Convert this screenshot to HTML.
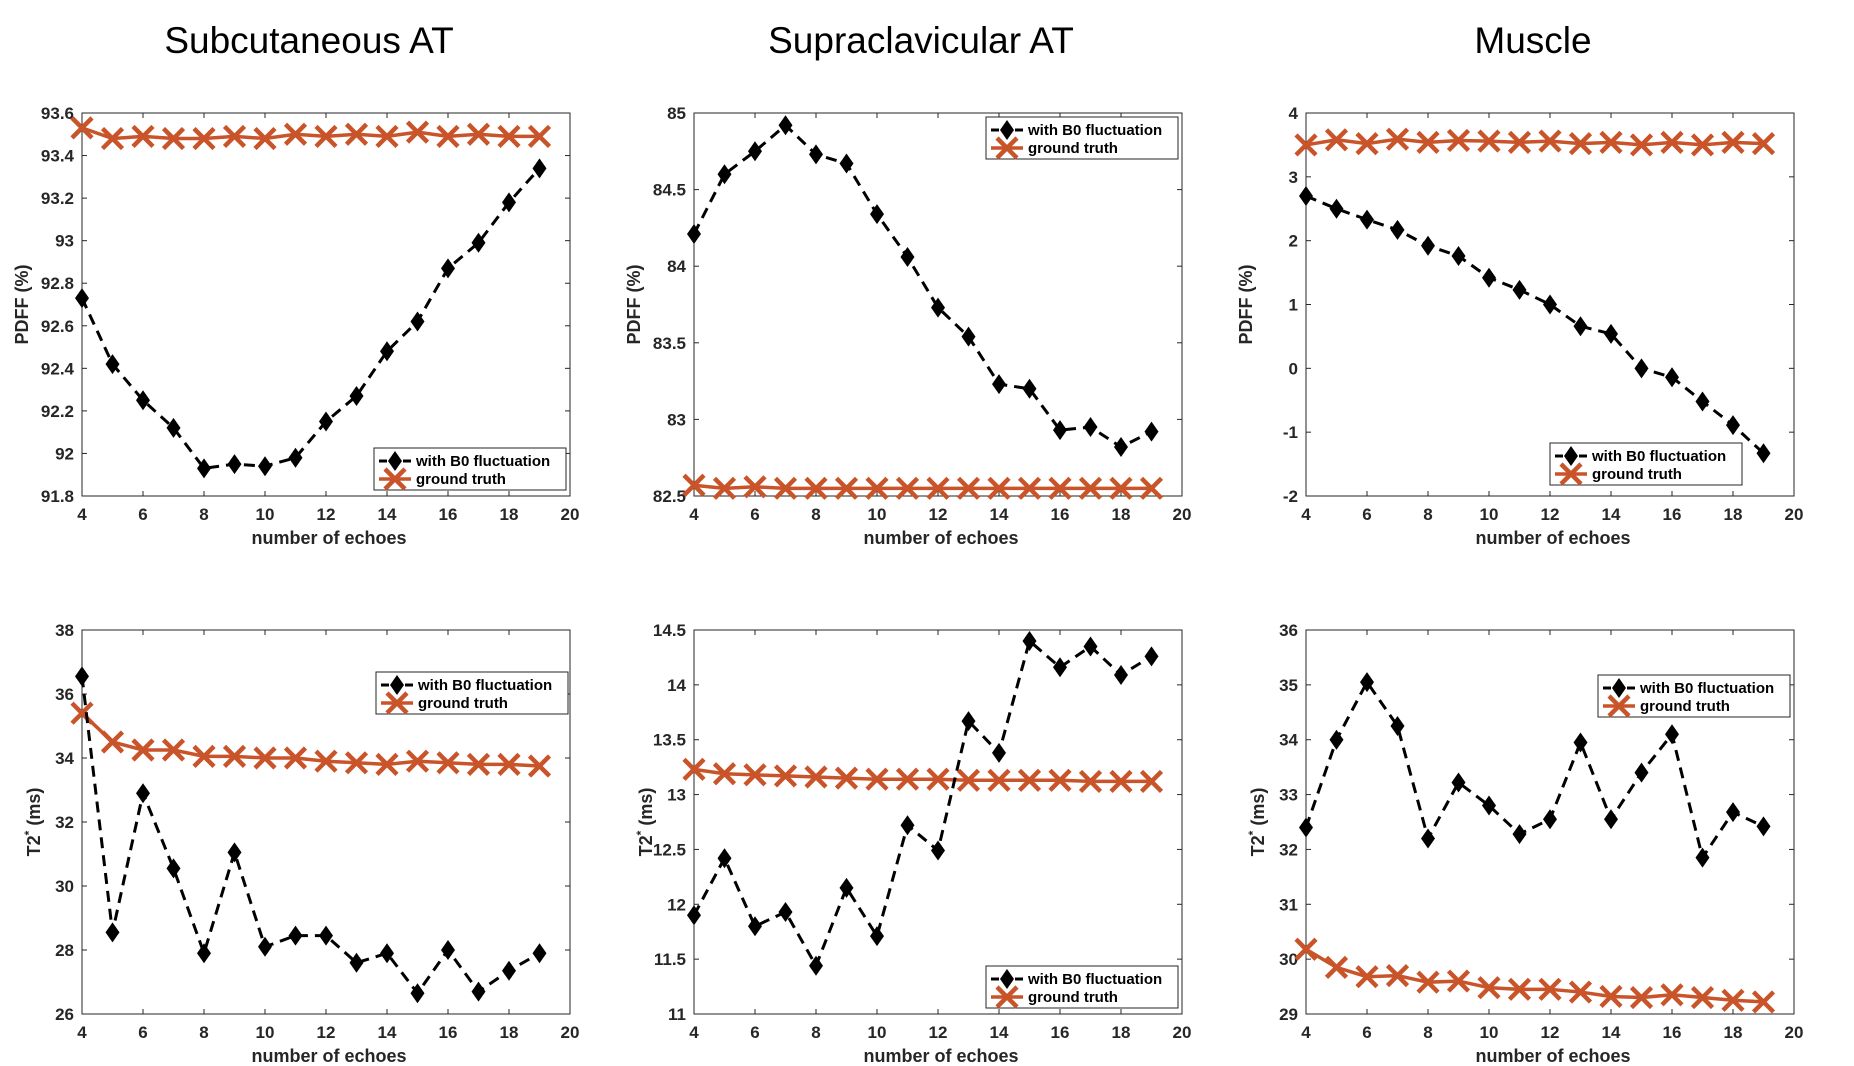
<!DOCTYPE html>
<html><head><meta charset="utf-8"><style>
body{margin:0;background:#fff;}
svg{display:block;font-family:"Liberation Sans",sans-serif;}
.tk{font-size:17px;font-weight:bold;fill:#262626;}
.al{font-size:18px;font-weight:bold;fill:#262626;}
.ttl{font-size:37px;fill:#000;}
.lg{font-size:15px;font-weight:bold;fill:#000;}
</style></head><body>
<svg id="fig" width="1854" height="1066" viewBox="0 0 1854 1066"></svg>
<script>
const echoes=[4,5,6,7,8,9,10,11,12,13,14,15,16,17,18,19];
const xTicks=[4,6,8,10,12,14,16,18,20];
const subPdffB0=[92.73,92.42,92.25,92.12,91.93,91.95,91.94,91.98,92.15,92.27,92.48,92.62,92.87,92.99,93.18,93.34];
const subPdffGT=[93.53,93.48,93.49,93.48,93.48,93.49,93.48,93.50,93.49,93.50,93.49,93.51,93.49,93.50,93.49,93.49];
const supPdffB0=[84.21,84.60,84.75,84.92,84.73,84.67,84.34,84.06,83.73,83.54,83.23,83.20,82.93,82.95,82.82,82.92];
const supPdffGT=[82.57,82.55,82.56,82.55,82.55,82.55,82.55,82.55,82.55,82.55,82.55,82.55,82.55,82.55,82.55,82.55];
const musPdffB0=[2.70,2.50,2.33,2.17,1.92,1.76,1.42,1.23,1.00,0.66,0.54,0.00,-0.14,-0.52,-0.89,-1.33];
const musPdffGT=[3.50,3.58,3.52,3.59,3.54,3.57,3.56,3.54,3.56,3.52,3.54,3.50,3.54,3.50,3.54,3.52];
const subT2B0=[36.55,28.55,32.9,30.55,27.9,31.05,28.1,28.45,28.45,27.6,27.9,26.65,28.0,26.7,27.35,27.9];
const subT2GT=[35.4,34.5,34.25,34.25,34.05,34.05,34.0,34.0,33.9,33.85,33.8,33.9,33.85,33.8,33.8,33.75];
const supT2B0=[11.9,12.42,11.8,11.93,11.44,12.15,11.71,12.72,12.49,13.67,13.38,14.4,14.16,14.35,14.09,14.26];
const supT2GT=[13.23,13.19,13.18,13.17,13.16,13.15,13.14,13.14,13.14,13.13,13.13,13.13,13.13,13.12,13.12,13.12];
const musT2B0=[32.4,34.0,35.05,34.25,32.2,33.22,32.8,32.28,32.55,33.95,32.55,33.4,34.1,31.85,32.68,32.42];
const musT2GT=[30.18,29.85,29.68,29.7,29.58,29.6,29.48,29.45,29.45,29.4,29.32,29.3,29.35,29.3,29.25,29.22];
const subPdffTicks=[91.8,92,92.2,92.4,92.6,92.8,93,93.2,93.4,93.6];
const supPdffTicks=[82.5,83,83.5,84,84.5,85];
const musPdffTicks=[-2,-1,0,1,2,3,4];
const subT2Ticks=[26,28,30,32,34,36,38];
const supT2Ticks=[11,11.5,12,12.5,13,13.5,14,14.5];
const musT2Ticks=[29,30,31,32,33,34,35,36];
const titles=['Subcutaneous AT','Supraclavicular AT','Muscle'];

const NS='http://www.w3.org/2000/svg';
const fig=document.getElementById('fig');
function el(tag,attrs,parent,text){const e=document.createElementNS(NS,tag);for(const k in attrs)e.setAttribute(k,attrs[k]);if(text!==undefined)e.textContent=text;(parent||fig).appendChild(e);return e;}
const OR='#C9542A';
function diamond(g,x,y){return el('polygon',{points:`${x},${y-10} ${x+7},${y} ${x},${y+10} ${x-7},${y}`,fill:'#000'},g);}
function cross(g,x,y){return el('path',{d:`M${x-10},${y-10}L${x+10},${y+10}M${x-10},${y+10}L${x+10},${y-10}`,stroke:OR,'stroke-width':4.5,fill:'none'},g);}

const panels=[
 {c:0,r:0,b0:subPdffB0,gt:subPdffGT,yt:subPdffTicks,yl:'PDFF (%)',leg:'br',lx:-4,ly:-6},
 {c:1,r:0,b0:supPdffB0,gt:supPdffGT,yt:supPdffTicks,yl:'PDFF (%)',leg:'tr',lx:-4,ly:4},
 {c:2,r:0,b0:musPdffB0,gt:musPdffGT,yt:musPdffTicks,yl:'PDFF (%)',leg:'br',lx:-52,ly:-11},
 {c:0,r:1,b0:subT2B0,gt:subT2GT,yt:subT2Ticks,yl:'T2',leg:'tr',lx:-2,ly:42},
 {c:1,r:1,b0:supT2B0,gt:supT2GT,yt:supT2Ticks,yl:'T2',leg:'br',lx:-4,ly:-6},
 {c:2,r:1,b0:musT2B0,gt:musT2GT,yt:musT2Ticks,yl:'T2',leg:'tr',lx:-4,ly:45}
];
const colL=[82,694,1306], W=488, rowT=[113,630], H=[383,384];

titles.forEach((t,i)=>{
 const tx=el('text',{x:colL[i]+W/2-17,y:53,'text-anchor':'middle',class:'ttl'},fig,t);
 
 
});

panels.forEach((p,pi)=>{
 const L=colL[p.c],T=rowT[p.r],h=H[p.r],R=L+W,B=T+h;
 const ymin=p.yt[0],ymax=p.yt[p.yt.length-1];
 const X=v=>L+(v-4)/(20-4)*W;
 const Y=v=>B-(v-ymin)/(ymax-ymin)*h;
 const g=el('g',{});
 
 
 el('rect',{x:L,y:T,width:W,height:h,fill:'#fff',stroke:'#262626','stroke-width':1},g);
 xTicks.forEach(v=>{
  el('line',{x1:X(v),x2:X(v),y1:B,y2:B-5,stroke:'#262626'},g);
  el('line',{x1:X(v),x2:X(v),y1:T,y2:T+5,stroke:'#262626'},g);
  const t=el('text',{x:X(v),y:B+24,'text-anchor':'middle',class:'tk'},g,String(v));
  
  
 });
 p.yt.forEach(v=>{
  el('line',{x1:L,x2:L+5,y1:Y(v),y2:Y(v),stroke:'#262626'},g);
  el('line',{x1:R,x2:R-5,y1:Y(v),y2:Y(v),stroke:'#262626'},g);
  const t=el('text',{x:L-8,y:Y(v)+6,'text-anchor':'end',class:'tk'},g,String(v));
  
  
 });
 const xl=el('text',{x:L+W/2+3,y:B+48,'text-anchor':'middle',class:'al'},g,'number of echoes');
 
 
 let yl;
 if(p.yl==='T2'){
  yl=el('text',{transform:`translate(${L-42},${T+h/2}) rotate(-90)`,'text-anchor':'middle',class:'al'},g);
  el('tspan',{},yl,'T2');
  el('tspan',{dy:-7,'font-size':12},yl,'*');
  el('tspan',{dy:7},yl,' (ms)');
 } else {
  yl=el('text',{transform:`translate(${L-54},${T+h/2}) rotate(-90)`,'text-anchor':'middle',class:'al'},g,p.yl);
 }
 
 
 const gpts=echoes.map((e,i)=>X(e)+','+Y(p.gt[i])).join(' ');
 const gl=el('polyline',{points:gpts,fill:'none',stroke:OR,'stroke-width':3.5},g);
 
 
 echoes.forEach((e,i)=>{const m=cross(g,X(e),Y(p.gt[i]));
  
  });
 const bpts=echoes.map((e,i)=>X(e)+','+Y(p.b0[i])).join(' ');
 const bl=el('polyline',{points:bpts,fill:'none',stroke:'#000','stroke-width':3,'stroke-dasharray':'11,7'},g);
 
 
 echoes.forEach((e,i)=>{const m=diamond(g,X(e),Y(p.b0[i]));
  
  });
 const lw=192,lh=42;
 const lx=R+p.lx-lw;
 const ly=p.leg==='tr'?T+p.ly:B+p.ly-lh;
 const lg=el('g',{},g);
 
 
 el('rect',{x:lx,y:ly,width:lw,height:lh,fill:'#fff',stroke:'#262626','stroke-width':1},lg);
 el('line',{x1:lx+5,x2:lx+37,y1:ly+13,y2:ly+13,stroke:'#000','stroke-width':3,'stroke-dasharray':'8,4'},lg);
 diamond(lg,lx+21,ly+13);
 el('text',{x:lx+42,y:ly+18,class:'lg'},lg,'with B0 fluctuation');
 el('line',{x1:lx+5,x2:lx+37,y1:ly+31,y2:ly+31,stroke:OR,'stroke-width':3.5},lg);
 cross(lg,lx+21,ly+31);
 el('text',{x:lx+42,y:ly+36,class:'lg'},lg,'ground truth');
});
</script>
</body></html>
